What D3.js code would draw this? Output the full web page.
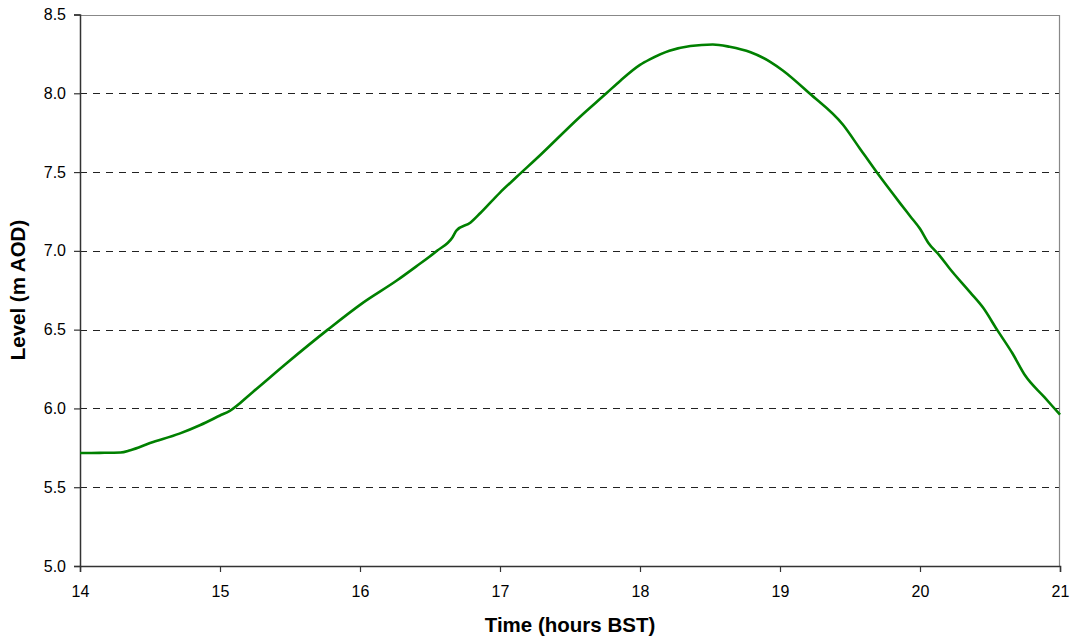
<!DOCTYPE html>
<html><head><meta charset="utf-8">
<script src="https://cdn.jsdelivr.net/npm/d3@7"></script>
<style>body{margin:0;background:#fff}svg{display:block}text{font-family:"Liberation Sans",Arial,sans-serif}</style>
</head><body><svg id="c" width="1075" height="639"></svg>
<script>
const times = [14.00,14.14,14.29,14.36,14.50,14.71,14.86,15.00,15.07,15.235,15.48,15.77,16.02,16.26,16.40,16.55,16.66,16.69,16.79,16.86,17.00,17.12,17.29,17.57,17.76,17.86,18.00,18.07,18.21,18.36,18.52,18.64,18.79,18.93,19.02,19.21,19.45,19.57,19.69,19.86,19.93,20.00,20.06,20.14,20.21,20.36,20.45,20.55,20.66,20.75,20.89,21.00];
const levels = [5.717,5.718,5.72,5.735,5.78,5.84,5.895,5.955,5.985,6.105,6.29,6.50,6.67,6.81,6.90,7.00,7.085,7.13,7.18,7.24,7.37,7.47,7.61,7.85,8.00,8.08,8.18,8.215,8.27,8.30,8.31,8.295,8.26,8.20,8.145,8.00,7.80,7.65,7.50,7.30,7.22,7.14,7.05,6.97,6.89,6.735,6.64,6.50,6.35,6.21,6.07,5.96];
const xTicks = [14,15,16,17,18,19,20,21];
const yTicks = [5.0,5.5,6.0,6.5,7.0,7.5,8.0,8.5];
const xTitle = "Time (hours BST)";
const yTitle = "Level (m AOD)";

const svg = d3.select("#c");
const L=80,R=1060,T=14.5,B=566;
const x = d3.scaleLinear().domain([14,21]).range([L,R]);
const y = d3.scaleLinear().domain([5,8.5]).range([B,T]);

svg.append("g").selectAll("line").data(yTicks.filter(v=>v>5&&v<8.5)).join("line")
  .attr("x1",L).attr("x2",R).attr("y1",d=>Math.round(y(d))+0.5).attr("y2",d=>Math.round(y(d))+0.5)
  .attr("stroke","#222").attr("stroke-width",1).attr("stroke-dasharray","7,6");

svg.append("path").attr("d",`M${L},${Math.round(T)+0.5}H${R-0.5}V${B}`).attr("fill","none").attr("stroke","#888").attr("stroke-width",1.2);

const xa = svg.append("g").attr("transform",`translate(0,${B})`)
  .call(d3.axisBottom(x).tickValues(xTicks).tickFormat(d3.format("d")).tickSizeOuter(0).tickSize(6).tickPadding(14));
const ya = svg.append("g").attr("transform",`translate(${L},0)`)
  .call(d3.axisLeft(y).tickValues(yTicks).tickFormat(d3.format(".1f")).tickSizeOuter(0).tickSize(6).tickPadding(8));
[xa,ya].forEach(a=>{
  a.select(".domain").attr("stroke","#333").attr("stroke-width",1.5);
  a.selectAll(".tick line").attr("stroke","#333").attr("stroke-width",1.2);
  a.selectAll(".tick text").attr("font-size",16).attr("fill","#000").attr("font-family","Liberation Sans, Arial, sans-serif");
});

const data = times.map((t,i)=>({t,v:levels[i]}));
svg.append("path").datum(data)
  .attr("d",d3.line().x(d=>x(d.t)).y(d=>y(d.v)).curve(d3.curveMonotoneX))
  .attr("fill","none").attr("stroke","#008000").attr("stroke-width",2.6).attr("stroke-linejoin","round");

svg.append("text").attr("x",570).attr("y",632).attr("text-anchor","middle")
  .attr("font-size",20.5).attr("font-weight","bold").text(xTitle);
svg.append("text").attr("transform","translate(25,290) rotate(-90)").attr("text-anchor","middle")
  .attr("font-size",20.5).attr("font-weight","bold").text(yTitle);
</script></body></html>
